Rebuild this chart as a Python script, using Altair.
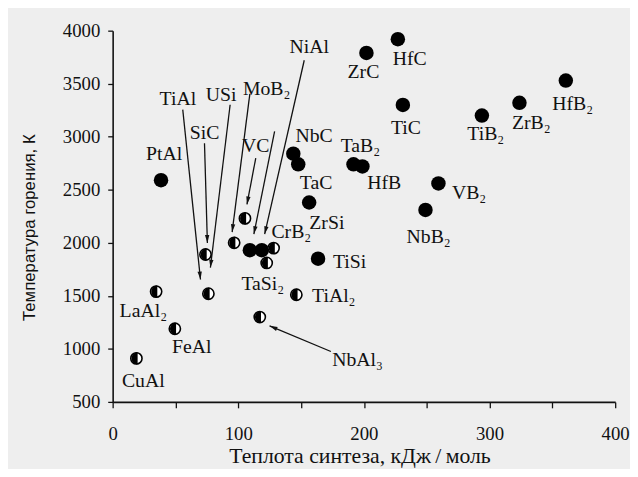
import math
import altair as alt
import pandas as pd

W, H = 509, 376
XDOM = [0, 400]
YDOM = [500, 4000]

# filled circles
filled_names = ["PtAl", "NbC", "TaC", "ZrSi", "TiSi", "TaB2", "HfB", "ZrC", "HfC", "TiC",
                "VB2", "NbB2", "TiB2", "ZrB2", "HfB2", "USi", "NiAl"]
filled_x = [38.5, 143.8, 147.7, 156.4, 163.5, 191.7, 198.8, 202, 227, 231,
            259.3, 249, 293.9, 323.8, 360.7, 109.2, 118.7]
filled_y = [2590, 2840, 2740, 2380, 1850, 2740, 2720, 3790, 3920, 3300,
            2560, 2310, 3200, 3320, 3530, 1930, 1930]

# half-filled circles
half_names = ["CuAl", "FeAl", "LaAl2", "SiC", "TiAl", "MoB2", "VC", "CrB2", "TaSi2", "NbAl3", "TiAl2"]
half_x = [18.9, 49.5, 34.6, 73.9, 76.2, 96.7, 105.3, 128.1, 122.6, 117.1, 146.2]
half_y = [910, 1190, 1540, 1890, 1520, 2000, 2230, 1950, 1810, 1300, 1510]

# text labels
label_text = ["CuAl", "FeAl", "LaAl₂", "PtAl", "TiAl", "SiC", "USi", "MoB₂", "VC", "NiAl",
              "NbC", "TaC", "TaB₂", "HfB", "ZrC", "HfC", "TiC", "TiB₂", "ZrB₂", "HfB₂",
              "VB₂", "NbB₂", "ZrSi", "TiSi", "CrB₂", "TaSi₂", "TiAl₂", "NbAl₃"]
label_x = [24.4, 62.9, 24.4, 40.9, 51.9, 73.1, 86.4, 122.6, 113.9, 156.4,
           160.3, 161.9, 197.2, 216.1, 199.6, 236.5, 233.4, 297, 333.2, 366.2,
           283.7, 251.5, 170.5, 188.6, 142.2, 119.5, 176, 194.9]
label_y = [696, 1021, 1356, 2836, 3358, 3032, 3395, 3451, 2911, 3842,
           3004, 2567, 2911, 2567, 3609, 3730, 3078, 3023, 3125, 3311,
           2473, 2055, 2185, 1822, 2101, 1608, 1496, 891]

# arrows (start -> tip)
arrow_x1 = [55.8, 73.1, 93.5, 109.2, 113.9, 128.9, 152.5, 173.7]
arrow_y1 = [3255, 2939, 3302, 3404, 2799, 3051, 3721, 975]
arrow_x2 = [69.9, 75.4, 77.8, 95.1, 106.9, 112.4, 121.0, 124.9]
arrow_y2 = [1654, 1999, 1766, 2101, 2362, 2082, 2082, 1217]

x_ticks = list(range(0, 401, 50))
y_ticks = list(range(500, 4001, 250))

filled_df = pd.DataFrame({"name": filled_names, "x": filled_x, "y": filled_y})
half_df = pd.DataFrame({"name": half_names, "x": half_x, "y": half_y})
label_df = pd.DataFrame({"text": label_text, "x": label_x, "y": label_y})

sx = W / (XDOM[1] - XDOM[0])
sy = H / (YDOM[1] - YDOM[0])
angles = []
for a, b, c, d in zip(arrow_x1, arrow_y1, arrow_x2, arrow_y2):
    dx = (c - a) * sx
    dy = -(d - b) * sy
    angles.append(math.degrees(math.atan2(dx, -dy)) % 360)
arrow_df = pd.DataFrame({"x": arrow_x1, "y": arrow_y1, "x2": arrow_x2, "y2": arrow_y2,
                         "ang": angles})

SERIF = "Liberation Serif"

X = alt.X("x:Q", scale=alt.Scale(domain=XDOM, nice=False, zero=False),
          axis=alt.Axis(values=x_ticks, grid=False, format="d",
                        labelExpr="datum.value % 100 === 0 ? datum.label : ''",
                        title="Теплота синтеза, кДж\u2009/\u2009моль",
                        titleFont=SERIF, titleFontSize=22, titleFontWeight="normal",
                        titleColor="#111", titleX=250, titleY=54, titleBaseline="middle",
                        labelFont=SERIF, labelFontSize=19, labelColor="#111",
                        labelPadding=17, labelFlush=False, labelOverlap=False,
                        tickSize=6, tickColor="#111", tickWidth=1.3,
                        domainColor="#111", domainWidth=1.6))
Y = alt.Y("y:Q", scale=alt.Scale(domain=YDOM, nice=False, zero=False),
          axis=alt.Axis(values=y_ticks, grid=False, format="d",
                        labelExpr="datum.value % 500 === 0 ? datum.label : ''",
                        title="Температура горения, К",
                        titleFont="Liberation Sans", titleFontSize=17, titleFontWeight="normal",
                        titleColor="#111", titleX=-84, titleY=199, titleBaseline="middle",
                        labelFont=SERIF, labelFontSize=19, labelColor="#111",
                        labelPadding=8, labelFlush=False, labelOverlap=False,
                        tickSize=5, tickColor="#111", tickWidth=1.3,
                        domainColor="#111", domainWidth=1.6))

rules = alt.Chart(arrow_df).mark_rule(color="#111", strokeWidth=1.3).encode(
    x=X, y=Y, x2="x2:Q", y2="y2:Q")

heads = alt.Chart(arrow_df).mark_point(
    shape="M 0,0 L 0.55,2 L -0.55,2 Z", filled=True, color="#111", opacity=1,
    size=64, strokeWidth=0).encode(
    x=alt.X("x2:Q", scale=alt.Scale(domain=XDOM, nice=False, zero=False)),
    y=alt.Y("y2:Q", scale=alt.Scale(domain=YDOM, nice=False, zero=False)),
    angle=alt.Angle("ang:Q", scale=None))

filled = alt.Chart(filled_df).mark_point(
    shape="circle", filled=True, color="#000", opacity=1, size=215).encode(x=X, y=Y)

half_bg = alt.Chart(half_df).mark_point(
    shape="circle", filled=True, fill="white", stroke="#000", strokeWidth=1.6,
    opacity=1, size=130).encode(x=X, y=Y)

half_fg = alt.Chart(half_df).mark_point(
    shape="M 0.2,-1 A 1,1 0 0,0 0.2,1 Z", filled=True, color="#000", opacity=1,
    size=150).encode(x=X, y=Y)

labels = alt.Chart(label_df).mark_text(
    font=SERIF, fontSize=20, color="#111", align="center", baseline="middle").encode(
    x=X, y=Y, text="text:N")

chart = alt.layer(rules, heads, filled, half_bg, half_fg, labels).properties(
    width=W, height=H,
    autosize=alt.AutoSizeParams(type="none"),
    padding={"left": 106, "top": 20, "right": 15, "bottom": 65},
    background="#eeeeee",
).configure_view(stroke=None)

chart.save("out.html", embed_options={"renderer": "svg", "actions": False})
